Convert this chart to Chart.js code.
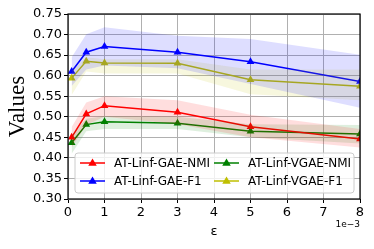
<!DOCTYPE html>
<html><head><meta charset="utf-8">
<script src="https://cdn.jsdelivr.net/npm/chart.js@4"></script>
<style>html,body{margin:0;padding:0;background:#fff}</style>
</head><body>
<canvas id="c" width="374" height="249"></canvas>
<script>
const eps = [0.1, 0.5, 1, 3, 5, 8];
const xTicks = [0, 1, 2, 3, 4, 5, 6, 7, 8];
const yTicks = [0.30, 0.35, 0.40, 0.45, 0.50, 0.55, 0.60, 0.65, 0.70, 0.75];

const gaeNmi      = [0.450, 0.507, 0.527, 0.511, 0.476, 0.446];
const gaeNmiHi    = [0.475, 0.535, 0.550, 0.540, 0.505, 0.470];
const gaeNmiLo    = [0.425, 0.480, 0.500, 0.482, 0.450, 0.425];

const gaeF1       = [0.610, 0.657, 0.671, 0.657, 0.634, 0.586];
const gaeF1Hi     = [0.645, 0.701, 0.718, 0.697, 0.689, 0.651];
const gaeF1Lo     = [0.575, 0.615, 0.625, 0.618, 0.580, 0.522];

const vgaeNmi     = [0.437, 0.481, 0.488, 0.484, 0.465, 0.458];
const vgaeNmiHi   = [0.455, 0.495, 0.502, 0.500, 0.482, 0.480];
const vgaeNmiLo   = [0.410, 0.465, 0.470, 0.470, 0.450, 0.435];

const vgaeF1      = [0.594, 0.635, 0.631, 0.630, 0.590, 0.574];
const vgaeF1Hi    = [0.612, 0.645, 0.640, 0.640, 0.615, 0.615];
const vgaeF1Lo    = [0.553, 0.610, 0.605, 0.605, 0.555, 0.540];

const seriesNames = ['AT-Linf-GAE-NMI', 'AT-Linf-GAE-F1', 'AT-Linf-VGAE-NMI', 'AT-Linf-VGAE-F1'];
const seriesColors = ['#ff0000', '#0000ff', '#008000', '#bfbf00'];
const bandColors = ['rgba(255,0,0,0.13)', 'rgba(0,0,255,0.13)', 'rgba(0,128,0,0.13)', 'rgba(191,191,0,0.13)'];

const pts = arr => arr.map((v, i) => ({x: eps[i], y: v}));

const mains = [gaeNmi, gaeF1, vgaeNmi, vgaeF1];
const his = [gaeNmiHi, gaeF1Hi, vgaeNmiHi, vgaeF1Hi];
const los = [gaeNmiLo, gaeF1Lo, vgaeNmiLo, vgaeF1Lo];

const datasets = [];
for (let k = 0; k < 4; k++) {
  datasets.push({label: 'hi' + k, data: pts(his[k]), borderWidth: 0, pointRadius: 0, fill: false, borderColor: 'rgba(0,0,0,0)'});
  datasets.push({label: 'lo' + k, data: pts(los[k]), borderWidth: 0, pointRadius: 0, fill: '-1', backgroundColor: bandColors[k], borderColor: 'rgba(0,0,0,0)'});
}
for (let k = 0; k < 4; k++) {
  datasets.push({label: seriesNames[k], data: pts(mains[k]), borderColor: seriesColors[k], backgroundColor: seriesColors[k],
    borderWidth: 1.5, pointStyle: 'triangle', pointRadius: 4.5, pointBorderWidth: 0, fill: false, tension: 0});
}

const frame = {
  id: 'frame',
  afterDraw(chart) {
    const {ctx, chartArea: a} = chart;
    ctx.save();
    ctx.strokeStyle = '#000'; ctx.lineWidth = 1.2;
    ctx.strokeRect(a.left, a.top, a.right - a.left, a.bottom - a.top);
    ctx.fillStyle = '#000';
    ctx.font = '9px "DejaVu Sans"';
    ctx.textAlign = 'right'; ctx.textBaseline = 'middle';
    ctx.fillText('1e\u22123', a.right, 225);
    const x0 = a.left + 7, x1 = a.right - 6, y0 = a.top + 139, y1 = a.bottom - 6;
    ctx.fillStyle = 'rgba(255,255,255,0.8)';
    ctx.strokeStyle = '#cccccc'; ctx.lineWidth = 1;
    const r = 3;
    ctx.beginPath();
    ctx.moveTo(x0 + r, y0); ctx.lineTo(x1 - r, y0); ctx.arcTo(x1, y0, x1, y0 + r, r);
    ctx.lineTo(x1, y1 - r); ctx.arcTo(x1, y1, x1 - r, y1, r);
    ctx.lineTo(x0 + r, y1); ctx.arcTo(x0, y1, x0, y1 - r, r);
    ctx.lineTo(x0, y0 + r); ctx.arcTo(x0, y0, x0 + r, y0, r);
    ctx.closePath(); ctx.fill(); ctx.stroke();
    const cols = [a.left + 12, a.left + 146];
    const rows = [y0 + 10, y0 + 28];
    ctx.font = '12px "DejaVu Sans"'; ctx.textAlign = 'left'; ctx.textBaseline = 'middle';
    for (let k = 0; k < 4; k++) {
      const cx = cols[Math.floor(k / 2)], cy = rows[k % 2];
      ctx.strokeStyle = seriesColors[k]; ctx.fillStyle = seriesColors[k]; ctx.lineWidth = 1.5;
      ctx.beginPath(); ctx.moveTo(cx, cy); ctx.lineTo(cx + 25, cy); ctx.stroke();
      const tx = cx + 12.5, s = 4.5;
      ctx.beginPath(); ctx.moveTo(tx, cy - s); ctx.lineTo(tx + s * 0.95, cy + s * 0.6); ctx.lineTo(tx - s * 0.95, cy + s * 0.6); ctx.closePath(); ctx.fill();
      ctx.fillStyle = '#000';
      ctx.fillText(seriesNames[k], cx + 34, cy + 1);
    }
    ctx.restore();
  }
};

new Chart(document.getElementById('c'), {
  type: 'line',
  data: {datasets},
  options: {
    responsive: false, animation: false,
    layout: {padding: {left: 0, right: 14, top: 14, bottom: 0}},
    plugins: {legend: {display: false}, tooltip: {enabled: false}},
    scales: {
      x: {
        type: 'linear', min: 0, max: 8,
        afterBuildTicks: s => { s.ticks = xTicks.map(v => ({value: v})); },
        afterFit: s => { s.height = 50; },
        grid: {color: '#b0b0b0', borderDash: [3, 2], tickLength: 4, tickColor: '#000', tickBorderDash: [], tickWidth: 1},
        border: {display: false},
        ticks: {color: '#000', font: {family: 'DejaVu Sans', size: 13}, padding: 2, maxRotation: 0, callback: v => String(v)},
        title: {display: true, text: '\u03b5', color: '#000', font: {family: 'DejaVu Sans', size: 13}, padding: {top: 0, bottom: 10}}
      },
      y: {
        min: 0.30, max: 0.75,
        afterBuildTicks: s => { s.ticks = yTicks.map(v => ({value: v})); },
        afterFit: s => { s.width = 68; },
        grid: {color: '#b0b0b0', borderDash: [3, 2], tickLength: 4, tickColor: '#000', tickBorderDash: [], tickWidth: 1},
        border: {display: false},
        ticks: {color: '#000', font: {family: 'DejaVu Sans', size: 13}, padding: 2, callback: v => v.toFixed(2)},
        title: {display: true, text: 'Values', color: '#000', font: {family: 'Liberation Serif', size: 23}, padding: {top: 4, bottom: 0}}
      }
    }
  },
  plugins: [frame]
});
</script>
</body></html>
